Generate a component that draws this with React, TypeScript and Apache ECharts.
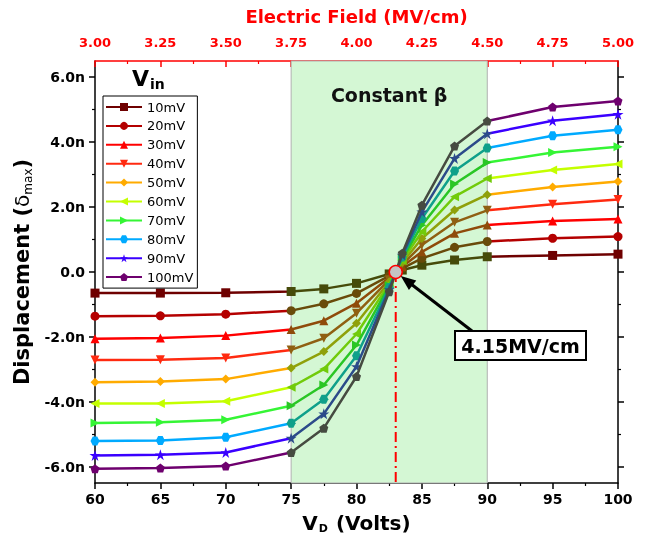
import React, { useEffect, useRef } from "react";
import * as echarts from "echarts";

// ---------- data ----------
const vpVolts = [60, 65, 70, 75, 77.5, 80, 82.5, 83.5, 85, 87.5, 90, 95, 100];
const seriesNames = ["10mV", "20mV", "30mV", "40mV", "50mV", "60mV", "70mV", "80mV", "90mV", "100mV"];
// displacement in units of n (1e-9)
const d10 = [-0.65, -0.65, -0.64, -0.6, -0.52, -0.35, -0.06, 0.06, 0.21, 0.37, 0.47, 0.51, 0.55];
const d20 = [-1.36, -1.35, -1.3, -1.19, -0.98, -0.66, -0.12, 0.11, 0.42, 0.76, 0.94, 1.04, 1.09];
const d30 = [-2.06, -2.03, -1.96, -1.77, -1.5, -0.96, -0.18, 0.17, 0.62, 1.19, 1.45, 1.57, 1.63];
const d40 = [-2.71, -2.7, -2.65, -2.4, -2.04, -1.27, -0.24, 0.23, 0.83, 1.53, 1.9, 2.09, 2.23];
const d50 = [-3.4, -3.37, -3.3, -2.96, -2.45, -1.58, -0.3, 0.29, 1.03, 1.91, 2.38, 2.62, 2.79];
const d60 = [-4.05, -4.05, -3.98, -3.55, -2.99, -1.91, -0.36, 0.35, 1.24, 2.32, 2.88, 3.14, 3.33];
const d70 = [-4.65, -4.63, -4.55, -4.12, -3.48, -2.25, -0.42, 0.41, 1.44, 2.71, 3.37, 3.68, 3.86];
const d80 = [-5.21, -5.19, -5.09, -4.66, -3.92, -2.58, -0.48, 0.46, 1.65, 3.11, 3.82, 4.2, 4.38];
const d90 = [-5.65, -5.63, -5.56, -5.12, -4.37, -2.91, -0.54, 0.52, 1.85, 3.5, 4.26, 4.66, 4.86];
const d100 = [-6.06, -6.04, -5.98, -5.56, -4.81, -3.22, -0.61, 0.58, 2.06, 3.88, 4.65, 5.08, 5.27];
const allSeries = [d10, d20, d30, d40, d50, d60, d70, d80, d90, d100];

const yMajorTicks = [-6, -4, -2, 0, 2, 4, 6];
const yMinorTicks = [-5, -3, -1, 1, 3, 5];
const regionStart = 75;
const regionEnd = 90;
const crossingVp = 83;
const crossingLabel = "4.15MV/cm";

// ---------- styles ----------
const colors = ["#6e0000", "#b40000", "#ff0000", "#ff2a10", "#ffab00", "#c4ff00", "#35f535", "#00aaff", "#3a00ff", "#6e006e"];
const symbols = [
  "rect",
  "circle",
  "triangle",
  "path://M0,0 L10,0 L5,9 Z",
  "diamond",
  "path://M9,0 L9,10 L0,5 Z",
  "path://M0,0 L9,5 L0,10 Z",
  "path://M2.5,0 L7.5,0 L10,5 L7.5,10 L2.5,10 L0,5 Z",
  "path://M5,0 L6.2,3.6 L10,3.6 L6.9,5.8 L8.1,9.5 L5,7.2 L1.9,9.5 L3.1,5.8 L0,3.6 L3.8,3.6 Z",
  "path://M5,0 L10,3.8 L8.1,10 L1.9,10 L0,3.8 Z",
];
const FONT = '"DejaVu Sans", sans-serif';

function blend(hex: string): string {
  const r = parseInt(hex.slice(1, 3), 16);
  const g = parseInt(hex.slice(3, 5), 16);
  const b = parseInt(hex.slice(5, 7), 16);
  const t = [30, 150, 20];
  const m = (a: number, c: number) => Math.round(a * 0.5 + c * 0.5);
  return `rgb(${m(r, t[0])},${m(g, t[1])},${m(b, t[2])})`;
}

export default function App() {
  const ref = useRef<HTMLDivElement>(null);
  useEffect(() => {
    const chart = echarts.init(ref.current!, undefined, { renderer: "svg" });

    const lineSeries = allSeries.map((vals, i) => ({
      name: seriesNames[i],
      type: "line",
      xAxisIndex: 0,
      yAxisIndex: 0,
      data: vpVolts.map((x, j) => [x, vals[j]]),
      symbol: symbols[i],
      symbolSize: i === 8 ? 11 : 9,
      lineStyle: { width: 2.5 },
      z: 3 + i,
    }));

    const visualMaps = allSeries.map((_, i) => ({
      type: "piecewise",
      show: false,
      dimension: 0,
      seriesIndex: i,
      pieces: [
        { lt: regionStart, color: colors[i] },
        { gte: regionStart, lte: regionEnd, color: blend(colors[i]) },
        { gt: regionEnd, color: colors[i] },
      ],
    }));

    const axisLineBlack = { show: true, lineStyle: { color: "#000", width: 1.5 } };
    const tickLabel = { color: "#000", fontFamily: FONT, fontWeight: "bold", fontSize: 14 };

    const option: any = {
      animation: false,
      color: colors,
      grid: { left: 95, right: 29, top: 61, bottom: 57 },
      legend: {
        data: seriesNames,
        orient: "vertical",
        left: 103,
        top: 96,
        borderColor: "#000",
        borderWidth: 1,
        borderRadius: 0,
        padding: [4, 4, 4, 2],
        itemWidth: 36,
        itemHeight: 10,
        itemGap: 4.9,
        textStyle: { color: "#000", fontFamily: FONT, fontSize: 13, lineHeight: 14 },
      },
      visualMap: visualMaps,
      xAxis: [
        {
          type: "value",
          position: "bottom",
          min: 60,
          max: 100,
          interval: 5,
          axisLine: { ...axisLineBlack, onZero: false },
          axisTick: { show: true, inside: false, length: 6, lineStyle: { color: "#000", width: 1.5 } },
          minorTick: { show: true, splitNumber: 2, length: 3, lineStyle: { color: "#000", width: 1.2 } },
          axisLabel: { ...tickLabel, margin: 9 },
          splitLine: { show: false },
          name: "{a|V}{s|D}{a| (Volts)}",
          nameLocation: "middle",
          nameGap: 29,
          nameTextStyle: {
            rich: {
              a: { fontFamily: FONT, fontSize: 20, fontWeight: "bold", color: "#000" },
              s: { fontFamily: FONT, fontSize: 11, fontWeight: "bold", color: "#000", verticalAlign: "bottom", padding: [11, 1, 0, 1] },
            },
          },
        },
        {
          type: "value",
          position: "top",
          min: 3,
          max: 5,
          interval: 0.25,
          axisLine: { show: true, onZero: false, lineStyle: { color: "#ff0000", width: 1.5 } },
          axisTick: { show: true, inside: true, length: 6, lineStyle: { color: "#ff0000", width: 1.5 } },
          minorTick: { show: true, splitNumber: 2, length: 3, lineStyle: { color: "#ff0000", width: 1.2 } },
          axisLabel: { color: "#ff0000", fontFamily: FONT, fontWeight: "bold", fontSize: 13, margin: 12, formatter: (v: number) => v.toFixed(2) },
          splitLine: { show: false },
          name: "Electric Field (MV/cm)",
          nameLocation: "middle",
          nameGap: 36,
          nameTextStyle: { color: "#ff0000", fontFamily: FONT, fontWeight: "bold", fontSize: 18 },
        },
      ],
      yAxis: [
        {
          type: "value",
          position: "left",
          min: -6.5,
          max: 6.5,
          axisLine: { ...axisLineBlack, onZero: false },
          axisTick: { show: true, inside: false, length: 6, customValues: yMajorTicks, lineStyle: { color: "#000", width: 1.5 } },
          axisLabel: {
            ...tickLabel,
            margin: 10,
            customValues: yMajorTicks,
            formatter: (v: number) => (v === 0 ? "0.0" : v.toFixed(1) + "n"),
          },
          splitLine: { show: false },
          name: "{a|Displacement (}{d|δ}{s|max}{a|)}",
          nameLocation: "middle",
          nameGap: 61,
          nameTextStyle: {
            rich: {
              a: { fontFamily: FONT, fontSize: 21, fontWeight: "bold", color: "#000" },
              d: { fontFamily: FONT, fontSize: 20, color: "#000" },
              s: { fontFamily: FONT, fontSize: 12, color: "#000", verticalAlign: "bottom", padding: [11, 0, 0, 0] },
            },
          },
        },
        {
          type: "value",
          position: "right",
          min: -6.5,
          max: 6.5,
          axisLine: { ...axisLineBlack, onZero: false },
          axisTick: { show: true, inside: false, length: 6, customValues: yMajorTicks, lineStyle: { color: "#000", width: 1.5 } },
          axisLabel: { show: false },
          splitLine: { show: false },
        },
        {
          type: "value",
          position: "left",
          min: -6.5,
          max: 6.5,
          axisLine: { show: false },
          axisTick: { show: true, inside: false, length: 3, customValues: yMinorTicks, lineStyle: { color: "#000", width: 1.2 } },
          axisLabel: { show: false },
          splitLine: { show: false },
        },
        {
          type: "value",
          position: "right",
          min: -6.5,
          max: 6.5,
          axisLine: { show: false },
          axisTick: { show: true, inside: false, length: 3, customValues: yMinorTicks, lineStyle: { color: "#000", width: 1.2 } },
          axisLabel: { show: false },
          splitLine: { show: false },
        },
      ],
      series: [
        ...lineSeries,
        {
          name: "region",
          type: "line",
          data: [],
          xAxisIndex: 0,
          yAxisIndex: 0,
          z: 1,
          markArea: {
            silent: true,
            itemStyle: { color: "#d4f7d4", borderColor: "#b0b0b0", borderWidth: 1 },
            label: {
              show: true,
              position: "insideTop",
              distance: 25,
              color: "#111",
              fontFamily: FONT,
              fontWeight: "bold",
              fontSize: 19,
              formatter: "Constant β",
            },
            data: [[{ xAxis: regionStart }, { xAxis: regionEnd }]],
          },
        },
        {
          name: "crossLine",
          type: "line",
          data: [
            [crossingVp, 0],
            [crossingVp, -6.5],
          ],
          symbol: "none",
          xAxisIndex: 0,
          yAxisIndex: 0,
          z: 2,
          lineStyle: { color: "#ff0000", width: 2, type: [10, 4, 2, 4] },
        },
        {
          name: "crossPoint",
          type: "scatter",
          data: [[crossingVp, 0]],
          symbolSize: 13,
          xAxisIndex: 0,
          yAxisIndex: 0,
          z: 20,
          itemStyle: { color: "#c4c4c4", borderColor: "#ff0000", borderWidth: 1.5, opacity: 1 },
        },
      ],
      graphic: [
        {
          type: "text",
          left: 132,
          top: 67,
          style: {
            text: "{v|V}{s|in}",
            rich: {
              v: { fontFamily: FONT, fontSize: 22, fontWeight: "bold", fill: "#000" },
              s: { fontFamily: FONT, fontSize: 14, fontWeight: "bold", fill: "#000", verticalAlign: "bottom", padding: [12, 0, 0, 1] },
            },
          },
        },
      ],
    };
    chart.setOption(option);

    const p = chart.convertToPixel({ xAxisIndex: 0, yAxisIndex: 0 }, [crossingVp, 0]) as number[];
    const start = [472, 331];
    const tip = [p[0] + 5, p[1] + 4];
    const dx = tip[0] - start[0];
    const dy = tip[1] - start[1];
    const len = Math.sqrt(dx * dx + dy * dy);
    const ux = dx / len;
    const uy = dy / len;
    const hl = 15;
    const hw = 6;
    const bx = tip[0] - ux * hl;
    const by = tip[1] - uy * hl;
    chart.setOption({
      graphic: [
        option.graphic[0],
        {
          type: "line",
          z: 30,
          shape: { x1: start[0], y1: start[1], x2: bx + ux * 2, y2: by + uy * 2 },
          style: { stroke: "#000", lineWidth: 3 },
        },
        {
          type: "polygon",
          z: 30,
          shape: {
            points: [
              [tip[0], tip[1]],
              [bx - uy * hw, by + ux * hw],
              [bx + uy * hw, by - ux * hw],
            ],
          },
          style: { fill: "#000" },
        },
        {
          type: "rect",
          z: 31,
          shape: { x: 455, y: 331, width: 131, height: 29 },
          style: { fill: "#fff", stroke: "#000", lineWidth: 2 },
        },
        {
          type: "text",
          z: 32,
          x: 520.5,
          y: 346,
          style: {
            text: crossingLabel,
            fontFamily: FONT,
            fontSize: 19,
            fontWeight: "bold",
            fill: "#000",
            align: "center",
            verticalAlign: "middle",
          },
        },
      ],
    });

    return () => chart.dispose();
  }, []);
  return <div ref={ref} style={{ position: "fixed", left: 0, top: 0, width: 647, height: 540 }} />;
}
